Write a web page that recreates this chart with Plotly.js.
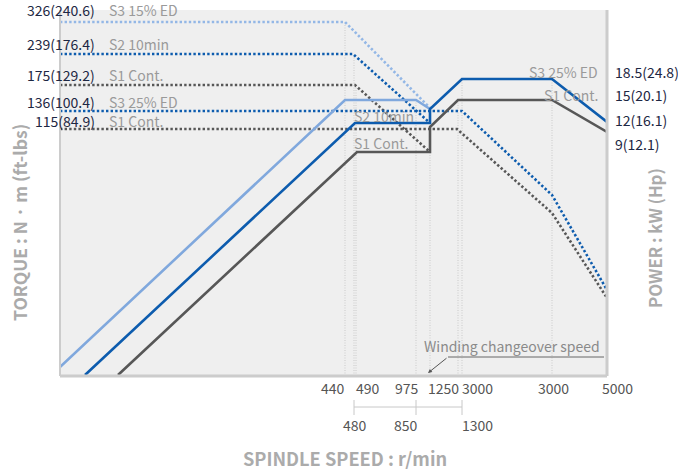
<!DOCTYPE html>
<html>
<head>
<meta charset="utf-8">
<script src="https://cdn.plot.ly/plotly-3.0.1.min.js"></script>
<style>html,body{margin:0;padding:0;background:#fff;}#chart{width:678px;height:470px;}</style>
</head>
<body>
<div id="chart"></div>
<script>
// ---- Schematic chart data (chart units: x along speed axis, y along level axis) ----
// Power curves (solid lines)
const s3_15ed_power_x = [0, 285, 356, 370];
const s3_15ed_power_y = [9, 276, 276, 267];
const s2_10min_power_x = [25, 295, 370, 370, 402, 492, 547];
const s2_10min_power_y = [1, 253, 253, 267, 297, 297, 254];
const s1_cont_power_x = [58, 297, 370, 370, 398, 492, 547];
const s1_cont_power_y = [1, 224, 224, 249, 276, 276, 244];

// Torque curves (dotted lines)
const s3_15ed_torque_x = [0, 285, 370];
const s3_15ed_torque_y = [354, 354, 268];
const s2_10min_torque_x = [0, 293, 370];
const s2_10min_torque_y = [322, 322, 253];
const s1_cont_torque_low_x = [0, 295, 370];
const s1_cont_torque_low_y = [291, 291, 224];
const s3_25ed_torque_x = [0, 402, 492, 547];
const s3_25ed_torque_y = [265, 265, 181, 86];
const s1_cont_torque_high_x = [0, 397, 492, 547];
const s1_cont_torque_high_y = [247, 247, 163, 78];

// Vertical guide lines (dotted)
const guideX = [285, 294, 296, 356, 370, 398, 402, 492];
const guideTop = [354, 322, 291, 276, 268, 276, 297, 297];

// Torque labels (left)
const torqueValues = ['326(240.6)', '239(176.4)', '175(129.2)', '136(100.4)', '115(84.9)'];
const torqueModes = ['S3 15% ED', 'S2 10min', 'S1 Cont.', 'S3 25% ED', 'S1 Cont.'];
const torqueLabelY = [366, 332, 301, 274, 255];

// Power labels (right)
const powerValues = ['18.5(24.8)', '15(20.1)', '12(16.1)', '9(12.1)'];
const powerLabelY = [304, 281, 256, 232];
const powerModes = ['S3 25% ED', 'S1 Cont.'];
const powerModeY = [304, 281];
const midModes = ['S2 10min', 'S1 Cont.'];
const midModeY = [260, 233];

// Speed tick labels
const speedTicks1 = ['440', '490', '975', '1250', '3000', '3000', '5000'];
const speedTicks1X = [273, 308, 347, 383, 417, 493, 557];
const speedTicks2 = ['480', '850', '1300'];
const speedTicks2X = [295, 346, 417];
const bracketX = [294, 356, 402];

const FONT = '"Noto Sans CJK KR", "Noto Sans", sans-serif';
const NAVY = '#1d2743';
const MODEGRAY = '#9a9a9a';
const LB = '#80a8dd', DB = '#0d5cae', GR = '#575757';

function line(x, y, color, dash) {
  return {x: x, y: y, type: 'scatter', mode: 'lines', hoverinfo: 'skip',
    line: {color: color, width: 2.6, dash: dash || 'solid'}};
}
const DOT = '2.4px,2.2px';
const traces = [
  line(s3_15ed_torque_x, s3_15ed_torque_y, '#93b7e6', DOT),
  line(s2_10min_torque_x, s2_10min_torque_y, DB, DOT),
  line(s1_cont_torque_low_x, s1_cont_torque_low_y, GR, DOT),
  line(s3_25ed_torque_x, s3_25ed_torque_y, DB, DOT),
  line(s1_cont_torque_high_x, s1_cont_torque_high_y, GR, DOT),
  line(s3_15ed_power_x, s3_15ed_power_y, LB),
  line(s1_cont_power_x, s1_cont_power_y, GR),
  line(s2_10min_power_x, s2_10min_power_y, DB)
];

const shapes = [];
guideX.forEach((gx, i) => {
  shapes.push({type: 'line', xref: 'x', yref: 'y', x0: gx, x1: gx, y0: 0, y1: guideTop[i],
    layer: 'below', line: {color: '#c9c9c9', width: 1, dash: '1px,1.5px'}});
});
// plot frame
shapes.push({type: 'line', xref: 'paper', yref: 'paper', x0: 0, x1: 0, y0: 0, y1: 1, line: {color: '#cccccc', width: 2}});
shapes.push({type: 'line', xref: 'paper', yref: 'paper', x0: 0, x1: 1, y0: 0, y1: 0, line: {color: '#cccccc', width: 3}});
shapes.push({type: 'line', xref: 'paper', yref: 'paper', x0: 1, x1: 1, y0: 0, y1: 1, line: {color: '#cccccc', width: 3}});
// bracket under speed ticks
const bY = -31 / 366, bT = -24 / 366, bB = -39 / 366;
shapes.push({type: 'line', xref: 'x', yref: 'paper', x0: bracketX[0], x1: bracketX[bracketX.length - 1], y0: bY, y1: bY, line: {color: '#c8c8c8', width: 1}});
bracketX.forEach(bx => shapes.push({type: 'line', xref: 'x', yref: 'paper', x0: bx, x1: bx, y0: bT, y1: bB, line: {color: '#c8c8c8', width: 1}}));
// winding changeover underline
shapes.push({type: 'line', xref: 'x', yref: 'y', x0: 388, x1: 544, y0: 19, y1: 19, line: {color: '#666', width: 1}});

const annotations = [];
torqueValues.forEach((t, i) => {
  annotations.push({xref: 'x', yref: 'y', x: 37, y: torqueLabelY[i], text: t, showarrow: false, xanchor: 'right', yanchor: 'middle',
    font: {family: FONT, size: 14, color: NAVY}});
  annotations.push({xref: 'x', yref: 'y', x: 47, y: torqueLabelY[i], text: torqueModes[i], showarrow: false, xanchor: 'left', yanchor: 'middle',
    font: {family: FONT, size: 14, color: MODEGRAY}});
});
powerValues.forEach((t, i) => {
  annotations.push({xref: 'paper', yref: 'y', x: 1, xshift: 6, y: powerLabelY[i], text: t, showarrow: false, xanchor: 'left', yanchor: 'middle',
    font: {family: FONT, size: 14, color: NAVY}});
});
powerModes.forEach((t, i) => {
  annotations.push({xref: 'x', yref: 'y', x: 540, y: powerModeY[i], text: t, showarrow: false, xanchor: 'right', yanchor: 'middle',
    font: {family: FONT, size: 14, color: MODEGRAY}});
});
midModes.forEach((t, i) => {
  annotations.push({xref: 'x', yref: 'y', x: 292, y: midModeY[i], text: t, showarrow: false, xanchor: 'left', yanchor: 'middle',
    font: {family: FONT, size: 14, color: MODEGRAY}});
});
speedTicks1.forEach((t, i) => {
  annotations.push({xref: 'x', yref: 'paper', x: speedTicks1X[i] > 547 ? 547 : speedTicks1X[i], xshift: speedTicks1X[i] > 547 ? speedTicks1X[i] - 547 : 0,
    y: 0, yshift: -12, text: t, showarrow: false, xanchor: 'center', yanchor: 'middle',
    font: {family: FONT, size: 14, color: '#555'}});
});
speedTicks2.forEach((t, i) => {
  annotations.push({xref: 'x', yref: 'paper', x: speedTicks2X[i], y: 0, yshift: -49, text: t, showarrow: false, xanchor: 'center', yanchor: 'middle',
    font: {family: FONT, size: 14, color: '#555'}});
});
// winding changeover
annotations.push({xref: 'x', yref: 'y', x: 452, y: 30, text: 'Winding changeover speed', showarrow: false, xanchor: 'center', yanchor: 'middle',
  font: {family: FONT, size: 14, color: '#8a8a8a'}});
annotations.push({xref: 'x', yref: 'y', x: 368, y: 3, ax: 388, ay: 19, axref: 'x', ayref: 'y', text: '', showarrow: true,
  arrowhead: 2, arrowsize: 0.8, arrowwidth: 1, arrowcolor: '#555'});
// axis titles
annotations.push({xref: 'paper', yref: 'paper', x: 0, xshift: -41, y: 0.418, text: '<b>TORQUE : N · m (ft-lbs)</b>', textangle: -90,
  showarrow: false, xanchor: 'center', yanchor: 'middle', font: {family: FONT, size: 17.5, color: '#ababab'}});
annotations.push({xref: 'paper', yref: 'paper', x: 1, xshift: 48, y: 0.377, text: '<b>POWER : kW (Hp)</b>', textangle: -90,
  showarrow: false, xanchor: 'center', yanchor: 'middle', font: {family: FONT, size: 16.8, color: '#ababab'}});
annotations.push({xref: 'paper', yref: 'paper', x: 0.521, y: 0, yshift: -82, text: '<b>SPINDLE SPEED : r/min</b>',
  showarrow: false, xanchor: 'center', yanchor: 'middle', font: {family: FONT, size: 18.2, color: '#ababab'}});

const layout = {
  width: 678, height: 470,
  margin: {l: 60, r: 71, t: 10, b: 94, pad: 0},
  paper_bgcolor: '#ffffff', plot_bgcolor: '#efefef',
  showlegend: false,
  xaxis: {range: [0, 547], showgrid: false, zeroline: false, showticklabels: false, showline: false, ticks: '', fixedrange: true},
  yaxis: {range: [0, 366], showgrid: false, zeroline: false, showticklabels: false, showline: false, ticks: '', fixedrange: true},
  shapes: shapes,
  annotations: annotations,
  font: {family: FONT}
};
Plotly.newPlot('chart', traces, layout, {displayModeBar: false, staticPlot: true});
</script>
</body>
</html>
